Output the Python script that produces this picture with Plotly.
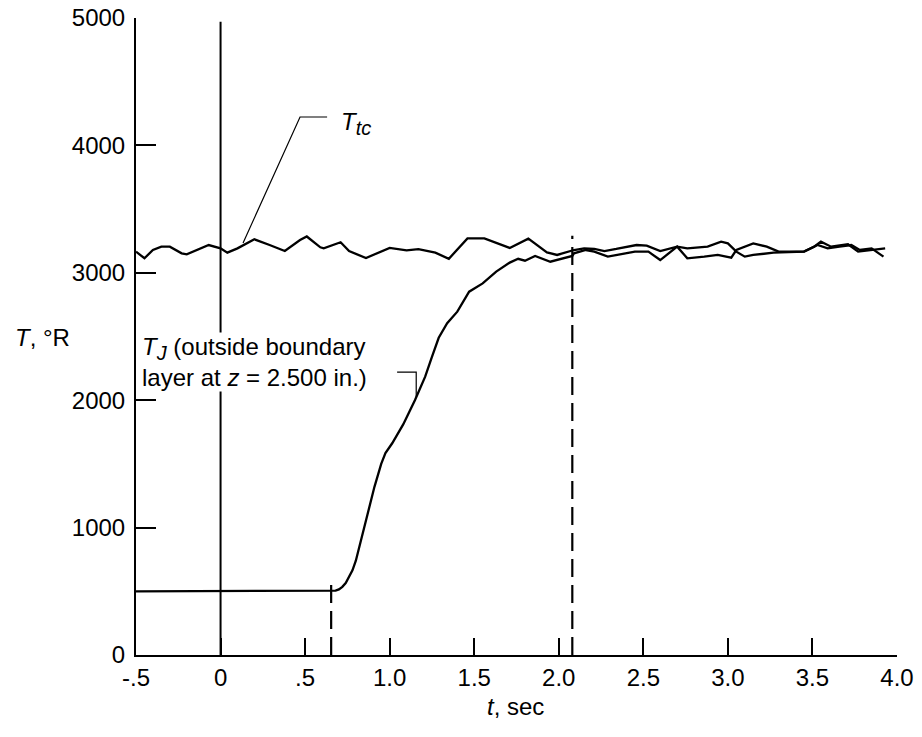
import plotly.graph_objects as go

# ---------------- data ----------------
t_tc = [-0.50, -0.45, -0.40, -0.35, -0.30, -0.23, -0.20, -0.14, -0.07, 0.00,
        0.04, 0.10, 0.20, 0.29, 0.38, 0.47, 0.51, 0.59, 0.61, 0.71, 0.76,
        0.86, 1.00, 1.10, 1.17, 1.27, 1.35, 1.46, 1.56, 1.71, 1.77, 1.82,
        1.93, 1.99, 2.09, 2.15, 2.21, 2.27, 2.34, 2.46, 2.52, 2.60, 2.70,
        2.76, 2.88, 2.96, 3.00, 3.05, 3.10, 3.15, 3.27, 3.45, 3.53, 3.59,
        3.66, 3.73, 3.78, 3.85, 3.92]
T_tc = [3166, 3114, 3179, 3205, 3205, 3153, 3145, 3179, 3218, 3192,
        3158, 3192, 3263, 3218, 3171, 3257, 3285, 3200, 3192, 3240, 3170,
        3116, 3196, 3176, 3185, 3158, 3110, 3270, 3270, 3195, 3236, 3268,
        3160, 3140, 3179, 3192, 3187, 3171, 3187, 3218, 3213, 3171, 3205,
        3192, 3205, 3244, 3231, 3166, 3127, 3140, 3158, 3166, 3218, 3192,
        3205, 3218, 3179, 3192, 3127]

t_j = [-0.50, 0.654, 0.68, 0.70, 0.72, 0.74, 0.76, 0.78, 0.80, 0.835, 0.87,
       0.91, 0.95, 0.975, 1.015, 1.08, 1.15, 1.21, 1.25, 1.29, 1.34, 1.40,
       1.47, 1.55, 1.63, 1.71, 1.76, 1.80, 1.86, 1.95, 2.08, 2.09, 2.16,
       2.21, 2.29, 2.35, 2.45, 2.53, 2.60, 2.70, 2.76, 2.86, 2.94, 3.02,
       3.05, 3.15, 3.23, 3.30, 3.45, 3.51, 3.55, 3.61, 3.71, 3.77, 3.84, 3.93]
T_j = [500, 500, 505, 515, 535, 565, 610, 665, 740, 930, 1110,
       1320, 1500, 1585, 1662, 1810, 2002, 2185, 2340, 2490, 2604, 2695,
       2852, 2917, 3009, 3080, 3110, 3095, 3132, 3087, 3132, 3153, 3179,
       3166, 3127, 3140, 3166, 3166, 3100, 3205, 3114, 3127, 3140, 3119,
       3179, 3231, 3205, 3166, 3166, 3205, 3244, 3205, 3224, 3166, 3179, 3192]

# reference lines
zero_line_t = [0.0, 0.0]
zero_line_T = [0, 4970]
dash1_t = [0.654, 0.654]
dash1_T = [0, 575]
dash2_t = [2.08, 2.08]
dash2_T = [0, 3290]

# leader lines
lead_tc_t = [0.133, 0.470, 0.630]
lead_tc_T = [3234, 4223, 4223]
lead_j_t = [1.044, 1.157, 1.157]
lead_j_T = [2221, 2221, 2017]

x_tickvals = [-0.5, 0, 0.5, 1.0, 1.5, 2.0, 2.5, 3.0, 3.5, 4.0]
x_ticktext = ["-.5", "0", ".5", "1.0", "1.5", "2.0", "2.5", "3.0", "3.5", "4.0"]
y_tickvals = [0, 1000, 2000, 3000, 4000, 5000]
y_ticktext = ["0", "1000", "2000", "3000", "4000", "5000"]

# ---------------- figure ----------------
W, H = 922, 737
ML, MR, MT, MB = 136, 25, 18, 82
FONT = "Liberation Sans, Arial, sans-serif"
FS = 24

def px_x(px):
    return (px - ML) / (W - ML - MR)

def px_y(py):
    return (H - MB - py) / (H - MB - MT)

fig = go.Figure()
blk = "black"

fig.add_trace(go.Scatter(x=zero_line_t, y=zero_line_T, mode="lines",
                         line=dict(color=blk, width=2)))
fig.add_trace(go.Scatter(x=dash1_t, y=dash1_T, mode="lines",
                         line=dict(color=blk, width=2.2, dash="18px,8px")))
fig.add_trace(go.Scatter(x=dash2_t, y=dash2_T, mode="lines",
                         line=dict(color=blk, width=2.2, dash="18px,8px")))
fig.add_trace(go.Scatter(x=t_tc, y=T_tc, mode="lines",
                         line=dict(color=blk, width=2.3)))
fig.add_trace(go.Scatter(x=t_j, y=T_j, mode="lines",
                         line=dict(color=blk, width=2.3)))
fig.add_trace(go.Scatter(x=lead_tc_t, y=lead_tc_T, mode="lines",
                         line=dict(color=blk, width=1.2)))
fig.add_trace(go.Scatter(x=lead_j_t, y=lead_j_T, mode="lines",
                         line=dict(color=blk, width=1.2)))

axis_common = dict(showgrid=False, zeroline=False, showline=True, linecolor=blk,
                   linewidth=2, ticks="inside", tickwidth=2, tickcolor=blk,
                   tickfont=dict(family=FONT, size=FS, color=blk), mirror=False,
                   automargin=False)

fig.update_xaxes(range=[-0.5, 4.0], tickvals=x_tickvals, ticktext=x_ticktext,
                 ticklen=17, ticklabelstandoff=0, **axis_common)
fig.update_yaxes(range=[0, 5000], tickvals=y_tickvals, ticktext=y_ticktext,
                 ticklen=20, ticklabelstandoff=4, **axis_common)

SUB = "<sub><span style='font-size:20px'><i>{}</i></span></sub>"
annotations = [
    dict(text="<i>t</i>, sec", xref="paper", yref="paper", x=px_x(515), y=px_y(706),
         xanchor="center", yanchor="middle", showarrow=False),
    dict(text="<i>T</i>, °R", xref="paper", yref="paper", x=px_x(13), y=px_y(337),
         xanchor="left", yanchor="middle", showarrow=False),
    dict(text="<i>T</i>" + SUB.format("tc"), xref="paper", yref="paper",
         x=px_x(339), y=px_y(124), xanchor="left", yanchor="middle", showarrow=False),
    dict(text="<i>T</i>" + SUB.format("J") + " (outside boundary<br>"
              "layer at <i>z</i> = 2.500 in.)",
         xref="paper", yref="paper", x=px_x(141), y=px_y(362),
         xanchor="left", yanchor="middle", align="left", showarrow=False,
         bgcolor="white", borderpad=0),
]
for a in annotations:
    a["font"] = dict(family=FONT, size=FS, color=blk)

fig.update_layout(width=W, height=H, margin=dict(l=ML, r=MR, t=MT, b=MB),
                  paper_bgcolor="white", plot_bgcolor="white", showlegend=False,
                  annotations=annotations, font=dict(family=FONT, size=FS, color=blk))

fig.write_html("out.html")
